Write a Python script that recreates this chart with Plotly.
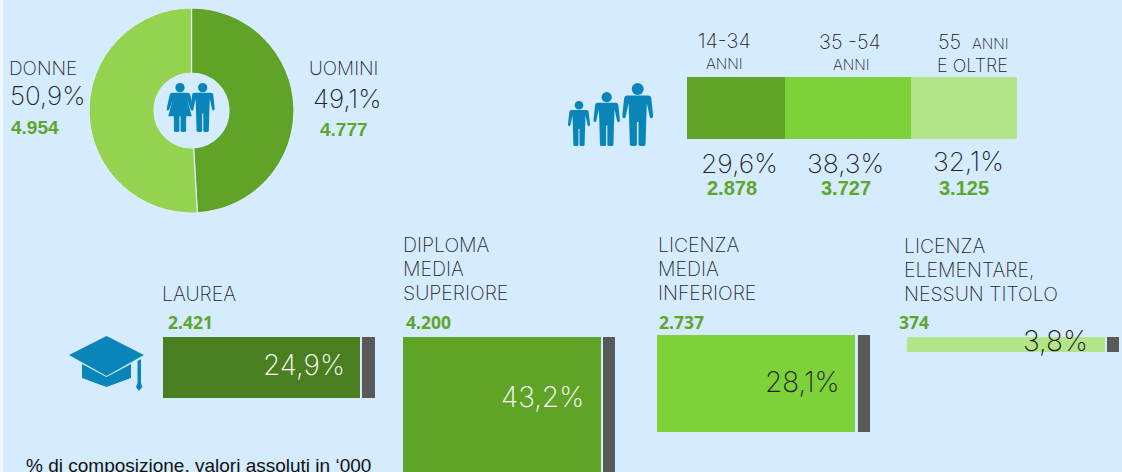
import plotly.graph_objects as go

W, H = 1122, 472
BG = "#d5ebfe"
TEAL = "#0a85b9"
GREEN_TXT = "#5fa52b"
INK = "#232328"
LIGHT = "Inter"

# ---- data -----------------------------------------------------------
gender_labels = ["UOMINI", "DONNE"]
gender_share = [49.1, 50.9]
gender_abs = ["4.777", "4.954"]

age_labels = ["14-34 anni", "35-54 anni", "55 anni e oltre"]
age_share = [29.6, 38.3, 32.1]
age_abs = ["2.878", "3.727", "3.125"]

edu_labels = ["LAUREA", "DIPLOMA MEDIA SUPERIORE", "LICENZA MEDIA INFERIORE", "LICENZA ELEMENTARE, NESSUN TITOLO"]
edu_share = ["24,9%", "43,2%", "28,1%", "3,8%"]
edu_abs = ["2.421", "4.200", "2.737", "374"]
edu_bar_depth = [61, 149, 97, 15]   # drawn depth of each block

# ---- styles / layout ------------------------------------------------
gender_colors = ["#5fa327", "#94d350"]
age_colors = ["#5fa327", "#7dd23a", "#b2e488"]
edu_colors = ["#4a7f1f", "#5fa327", "#7dd23a", "#b2e488"]
GREY = "#595959"
# panel boxes in pixels: main x0, x1, side x0, x1, top
edu_boxes = [(163, 360, 362, 375, 337), (403, 601, 603, 615, 337),
             (657, 855, 858, 870, 335), (907, 1105, 1107, 1119, 337)]


def px(x):
    return x / W


def py(y):
    return 1 - y / H


fig = go.Figure()
layout = dict(
    width=W, height=H, margin=dict(l=0, r=0, t=0, b=0), autosize=False,
    paper_bgcolor=BG, plot_bgcolor="rgba(0,0,0,0)", showlegend=False, bargap=0,
    xaxis=dict(domain=[0, 1], range=[0, W], visible=False, fixedrange=True),
    yaxis=dict(domain=[0, 1], range=[H, 0], visible=False, fixedrange=True),
)

# base trace keeps the pixel canvas axes alive
fig.add_trace(go.Scatter(x=[], y=[], xaxis="x", yaxis="y"))

# donut
fig.add_trace(go.Pie(
    labels=gender_labels, values=gender_share, sort=False, direction="clockwise", rotation=0,
    hole=0.366, textinfo="none", hoverinfo="skip",
    marker=dict(colors=gender_colors, line=dict(color="#dcefff", width=1.2)),
    domain=dict(x=[px(89), px(294)], y=[py(213), py(8)]),
))

# age stacked bar
layout["xaxis2"] = dict(domain=[px(687), px(1017)], range=[0, sum(age_share)], visible=False, fixedrange=True, anchor="y2")
layout["yaxis2"] = dict(domain=[py(139), py(77)], range=[-0.5, 0.5], visible=False, fixedrange=True, anchor="x2")
for lab, v, c in zip(age_labels, age_share, age_colors):
    fig.add_trace(go.Bar(x=[v], y=[0], orientation="h", width=1, name=lab, marker=dict(color=c, line=dict(width=0)),
                         xaxis="x2", yaxis="y2", hoverinfo="skip"))
layout["barmode"] = "stack"

# education blocks: each one a main block and a grey side block
ax = 3
for lab, d, c, (x0, x1, s0, s1, top) in zip(edu_labels, edu_bar_depth, edu_colors, edu_boxes):
    for a, b, col in ((x0, x1, c), (s0, s1, GREY)):
        layout[f"xaxis{ax}"] = dict(domain=[px(a), px(b)], range=[-0.5, 0.5], visible=False, fixedrange=True, anchor=f"y{ax}")
        layout[f"yaxis{ax}"] = dict(domain=[0, py(top)], range=[H - top, 0], visible=False, fixedrange=True, anchor=f"x{ax}")
        fig.add_trace(go.Bar(x=[0], y=[d], width=1, name=lab, marker=dict(color=col, line=dict(width=0)),
                             xaxis=f"x{ax}", yaxis=f"y{ax}", hoverinfo="skip"))
        ax += 1

# ---- text -----------------------------------------------------------
ann = []


def txt(x, y, s, size, color=INK, family=LIGHT, weight=200, anchor="left"):
    ann.append(dict(x=x, y=y, xref="x", yref="y", text=s, showarrow=False, xanchor=anchor, yanchor="middle",
                    align="left", borderpad=0,
                    font=dict(family=family, size=size, color=color, weight=weight)))


def num(x, y, s, size=18):
    txt(x, y, s, size, GREEN_TXT, "Liberation Sans", 700)


def num2(x, y, s, size=17.5):
    txt(x, y, s, size, GREEN_TXT, "Open Sans", 700)


LABEL = 19.5
PCT = 28
txt(8, 68, "DONNE", 19)
txt(9, 95, "50,9%", 26)
num(10, 127, gender_abs[1], 19)
txt(308, 68, "UOMINI", 19)
txt(312, 98, "49,1%", 26)
num(319, 129, gender_abs[0], 19)

txt(697, 41, "14-34", 20)
txt(705, 63, "ANNI", 15)
txt(818, 42, "35 -54", 20)
txt(832, 64, "ANNI", 15)
txt(937, 42, "55", 20)
txt(971, 43, "ANNI", 15)
txt(936, 65, "E OLTRE", 18)
txt(700, 163, "29,6%", 26.5)
txt(806, 163, "38,3%", 26.5)
txt(932, 161, "32,1%", 26.5)
num(706, 188, age_abs[0], 20)
num(820, 188, age_abs[1], 20)
num(938, 188, age_abs[2], 20)

txt(161, 294, "LAUREA", LABEL)
num2(167, 322, edu_abs[0])
for y, s in zip((245, 269, 293), ("DIPLOMA", "MEDIA", "SUPERIORE")):
    txt(402, y, s, LABEL)
num2(405, 322, edu_abs[1])
for y, s in zip((245, 269, 293), ("LICENZA", "MEDIA", "INFERIORE")):
    txt(657, y, s, LABEL)
num2(658, 322, edu_abs[2])
for y, s in zip((246, 270, 294), ("LICENZA", "ELEMENTARE,", "NESSUN TITOLO")):
    txt(903, y, s, LABEL)
num2(898, 322, edu_abs[3])
txt(262, 365, edu_share[0], PCT, "#ffffff")
txt(500, 397, edu_share[1], PCT, "#ffffff")
txt(764, 382, edu_share[2], PCT)
txt(1022, 341, edu_share[3], PCT)
txt(25, 465, "% di composizione, valori assoluti in ‘000", 19, "#111111", "Liberation Sans", 400)

# ---- icons ----------------------------------------------------------
shapes = [dict(type="rect", x0=0, x1=3, y0=0, y1=H, xref="x", yref="y", fillcolor="#eef7ff", line=dict(width=0), layer="below")]


def person(cx, top, h, female=False):
    sc = lambda u, v: f"{cx + u * h:.2f},{top + v * h:.2f}"
    r = 0.095 * h
    shapes.append(dict(type="circle", xref="x", yref="y", x0=cx - r, x1=cx + r, y0=top, y1=top + 2 * r,
                       fillcolor=TEAL, line=dict(width=0)))
    if not female:
        right = [("L", .17, .2), ("Q", .21, .2, .215, .24), ("L", .245, .52), ("Q", .245, .56, .215, .56),
                 ("Q", .195, .56, .19, .53), ("L", .145, .32), ("L", .135, .6), ("L", .125, .97),
                 ("Q", .125, 1, .095, 1), ("L", .04, 1), ("Q", .012, 1, .012, .97), ("L", .012, .62)]
    else:
        right = [("L", .15, .2), ("Q", .2, .2, .21, .24), ("L", .27, .52), ("Q", .28, .56, .25, .56),
                 ("Q", .225, .56, .215, .53), ("L", .15, .34), ("L", .24, .68), ("L", .125, .68), ("L", .125, .97),
                 ("Q", .125, 1, .095, 1), ("L", .04, 1), ("Q", .012, 1, .012, .97), ("L", .012, .68)]
    p = "M" + sc(-right[0][1], right[0][2]) + " "
    for seg in right:
        if seg[0] == "L":
            p += "L" + sc(seg[1], seg[2]) + " "
        else:
            p += "Q" + sc(seg[1], seg[2]) + " " + sc(seg[3], seg[4]) + " "
    prev_list = []
    cur = (right[0][1], right[0][2])
    for seg in right[1:]:
        prev_list.append((seg, cur))
        cur = (seg[-2], seg[-1])
    p += "L" + sc(-cur[0], cur[1]) + " "
    for seg, start in reversed(prev_list):
        if seg[0] == "L":
            p += "L" + sc(-start[0], start[1]) + " "
        else:
            p += "Q" + sc(-seg[1], seg[2]) + " " + sc(-start[0], start[1]) + " "
    p += "Z"
    shapes.append(dict(type="path", xref="x", yref="y", path=p, fillcolor=TEAL, line=dict(width=0)))


person(180, 83, 49, True)
person(202.7, 83, 49)
person(579, 101, 45)
person(606.7, 92, 54)
person(637.7, 83, 63)

cap_top = "M106.5,336 L144,355 L106.5,376 L69,355 Z"
cap_base = "M82,364 L106.5,377 L131,364 L131,378 L106.5,387 L82,378 Z"
tassel = "M137.5,361 L141,359 L141,383 L142.3,387 L139,391 L136,387 L137.5,383 Z"
for pth in (cap_top, cap_base, tassel):
    shapes.append(dict(type="path", xref="x", yref="y", path=pth, fillcolor=TEAL, line=dict(width=0)))

layout["annotations"] = ann
layout["shapes"] = shapes
fig.update_layout(**layout)
fig.write_html("out.html", config=dict(displayModeBar=False), post_script="document.body.style.margin='0';document.body.style.overflow='hidden';")
